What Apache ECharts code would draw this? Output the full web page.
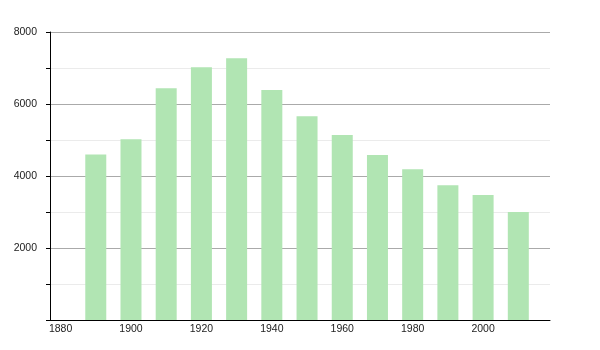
<!DOCTYPE html>
<html><head><meta charset="utf-8">
<script src="https://cdn.jsdelivr.net/npm/echarts@6/dist/echarts.min.js"></script>
<style>html,body{margin:0;padding:0;background:#fff}#c{width:600px;height:350px}</style>
</head><body><div id="c"></div>
<script>
const years = [1890,1900,1910,1920,1930,1940,1950,1960,1970,1980,1990,2000,2010];
const population = [4600,5020,6440,7020,7270,6390,5660,5140,4580,4190,3740,3470,3000];
const xTickLabels = [1880,1900,1920,1940,1960,1980,2000];
const yTickLabels = [2000,4000,6000,8000];

const chart = echarts.init(document.getElementById('c'), null, {renderer:'canvas'});
chart.setOption({
  animation:false,
  grid:{left:50,right:50,top:32,bottom:30},
  xAxis:{
    type:'value', min:1877, max:2019,
    axisLine:{show:true,onZero:false,lineStyle:{color:'#000',width:1}},
    axisTick:{show:false},
    splitLine:{show:false},
    axisLabel:{customValues:xTickLabels, color:'#222', fontSize:10.5, fontFamily:'Liberation Sans, Arial, sans-serif', margin:4,
      formatter:v=>String(v)}
  },
  yAxis:{
    type:'value', min:0, max:8000, interval:1000,
    axisLine:{show:true,lineStyle:{color:'#000',width:1}},
    axisTick:{show:true,length:4,inside:false,lineStyle:{color:'#000'}},
    splitLine:{show:true,lineStyle:{color:['#aaa','#ebebeb'],width:1}},
    axisLabel:{color:'#222', fontSize:10.5, fontFamily:'Liberation Sans, Arial, sans-serif', margin:13,
      formatter:v=>yTickLabels.includes(v)?String(v):''}
  },
  series:[{
    type:'bar', barWidth:21,
    data: years.map((y,i)=>[y,population[i]]),
    itemStyle:{color:'#b1e5b3'}
  }]
});
</script></body></html>
